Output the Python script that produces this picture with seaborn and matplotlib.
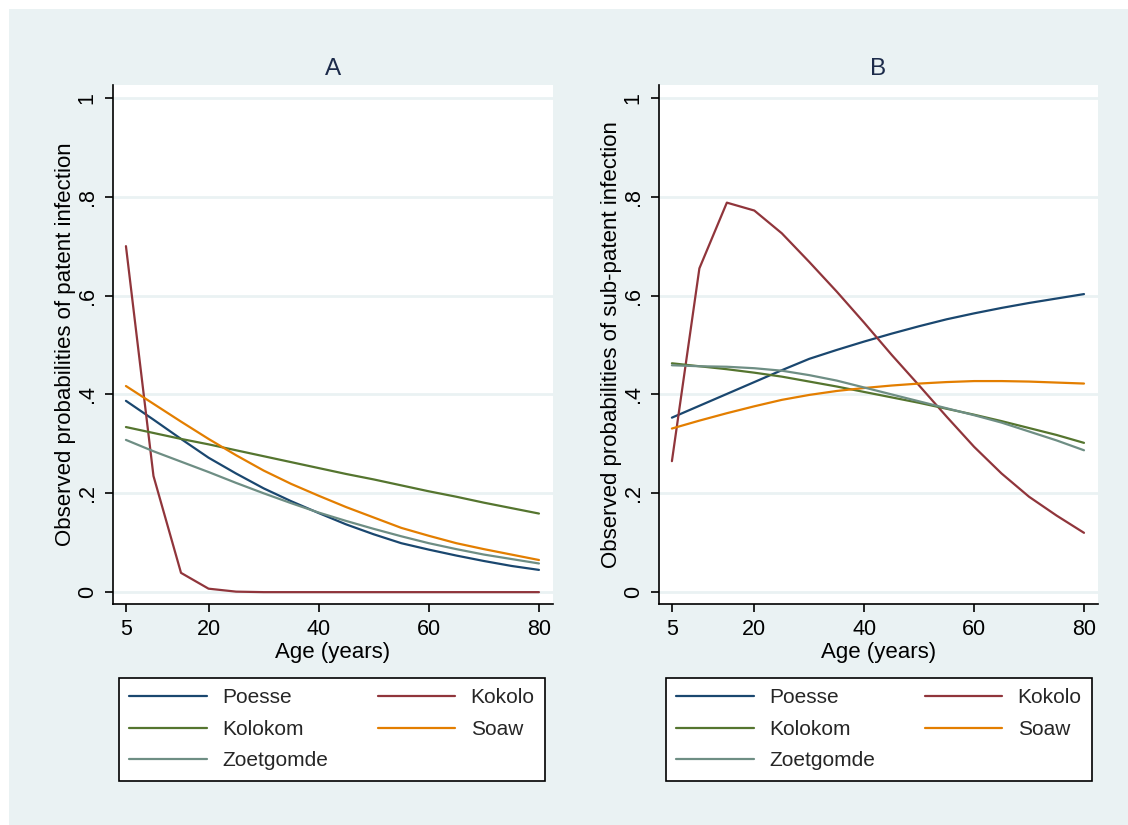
import numpy as np
import pandas as pd
import matplotlib.pyplot as plt
import seaborn as sns
from matplotlib.lines import Line2D
from matplotlib.patches import Rectangle

# ages and villages
ages = [5, 10, 15, 20, 25, 30, 35, 40, 45, 50, 55, 60, 65, 70, 75, 80]
villages = ["Poesse", "Kokolo", "Kolokom", "Soaw", "Zoetgomde"]
colors = ["#1a476f", "#90353b", "#55752f", "#e37e00", "#6e8e84"]

# A: patent infection
poesse_a = [0.387, 0.349, 0.310, 0.272, 0.240, 0.210, 0.184, 0.160, 0.137, 0.117, 0.099, 0.086, 0.074, 0.063, 0.053, 0.045]
kokolo_a = [0.700, 0.235, 0.039, 0.007, 0.001, 0, 0, 0, 0, 0, 0, 0, 0, 0, 0, 0]
kolokom_a = [0.334, 0.322, 0.310, 0.299, 0.287, 0.275, 0.263, 0.251, 0.239, 0.228, 0.216, 0.204, 0.193, 0.181, 0.170, 0.159]
soaw_a = [0.417, 0.381, 0.345, 0.310, 0.277, 0.246, 0.219, 0.195, 0.172, 0.151, 0.130, 0.114, 0.099, 0.087, 0.076, 0.065]
zoet_a = [0.308, 0.285, 0.264, 0.243, 0.221, 0.200, 0.180, 0.161, 0.144, 0.128, 0.113, 0.099, 0.087, 0.076, 0.067, 0.058]

# B: sub-patent infection
poesse_b = [0.353, 0.377, 0.401, 0.425, 0.449, 0.472, 0.490, 0.507, 0.523, 0.538, 0.552, 0.564, 0.575, 0.585, 0.594, 0.603]
kokolo_b = [0.265, 0.655, 0.788, 0.772, 0.726, 0.668, 0.608, 0.545, 0.480, 0.418, 0.355, 0.294, 0.240, 0.193, 0.155, 0.120]
kolokom_b = [0.463, 0.457, 0.451, 0.444, 0.436, 0.426, 0.416, 0.405, 0.394, 0.383, 0.371, 0.359, 0.346, 0.332, 0.318, 0.302]
soaw_b = [0.331, 0.347, 0.362, 0.376, 0.389, 0.399, 0.407, 0.413, 0.418, 0.422, 0.425, 0.427, 0.427, 0.426, 0.424, 0.422]
zoet_b = [0.459, 0.457, 0.456, 0.453, 0.448, 0.439, 0.428, 0.414, 0.400, 0.386, 0.372, 0.358, 0.343, 0.325, 0.307, 0.287]

y_ticks = [0, 0.2, 0.4, 0.6, 0.8, 1]
y_ticklabels = ["0", ".2", ".4", ".6", ".8", "1"]
x_ticks = [5, 20, 40, 60, 80]


def long_df(series):
    rows = []
    for name, vals in zip(villages, series):
        for a, v in zip(ages, vals):
            rows.append({"age": a, "prob": v, "village": name})
    return pd.DataFrame(rows)


df_a = long_df([poesse_a, kokolo_a, kolokom_a, soaw_a, zoet_a])
df_b = long_df([poesse_b, kokolo_b, kolokom_b, soaw_b, zoet_b])

sns.set_theme(style="white")
plt.rcParams['font.family'] = ['Liberation Sans', 'DejaVu Sans']

bg = "#eaf2f3"
W, H = 1128, 825
fig = plt.figure(figsize=(W / 100, H / 100), dpi=100, facecolor="white")
fig.patches.append(Rectangle((9 / W, 0), 1, (H - 9) / H, transform=fig.transFigure,
                             facecolor=bg, edgecolor="none", zorder=-10))

ax_a = fig.add_axes([113 / W, (H - 604) / H, 440 / W, 519 / H])
ax_b = fig.add_axes([659 / W, (H - 604) / H, 439 / W, 519 / H])

panels = [(ax_a, df_a, "A", "Observed probabilities of patent infection"),
          (ax_b, df_b, "B", "Observed probabilities of sub-patent infection")]

for ax, df, title, ylab in panels:
    ax.set_facecolor("white")
    sns.lineplot(data=df, x="age", y="prob", hue="village", hue_order=villages,
                 palette=colors, ax=ax, lw=1.6, legend=False)
    ax.set_xlim(2.65, 82.55)
    ax.set_ylim(-0.024, 1.026)
    ax.set_xticks(x_ticks)
    ax.set_xticklabels([str(t) for t in x_ticks], fontsize=15.5)
    ax.set_yticks(y_ticks)
    ax.set_yticklabels(y_ticklabels, fontsize=15.5, rotation=90, va="center")
    ax.yaxis.grid(True, color=bg, lw=2)
    ax.xaxis.grid(False)
    ax.set_axisbelow(True)
    for s in ["top", "right"]:
        ax.spines[s].set_visible(False)
    for s in ["left", "bottom"]:
        ax.spines[s].set_color("black")
        ax.spines[s].set_linewidth(1.2)
    ax.tick_params(axis="both", direction="out", length=6, width=1.2, color="black",
                   left=True, bottom=True, pad=5, labelcolor="black")
    ax.set_xlabel("Age (years)", fontsize=16, labelpad=1, color="black")
    ax.set_ylabel(ylab, fontsize=16, labelpad=0.5, color="black")
    ax.set_title(title, fontsize=17.5, pad=7, color="#1c2b4a")

# legends under each panel
order = [0, 2, 4, 1, 3]
handles = [Line2D([0], [0], color=colors[i], lw=1.6) for i in order]
labels = [villages[i] for i in order]
for ax, x0, x1 in [(ax_a, 119, 545), (ax_b, 666, 1092)]:
    leg = ax.legend(handles, labels, ncol=2, loc="upper left",
                    bbox_to_anchor=(x0 / W, (H - 783) / H, (x1 - x0) / W, 105 / H),
                    bbox_transform=fig.transFigure, mode="expand", borderaxespad=0,
                    fontsize=15, handlelength=3.7, handletextpad=0.75,
                    labelspacing=0.6, borderpad=0.5, frameon=True, fancybox=False,
                    framealpha=1)
    leg.get_frame().set_edgecolor("black")
    leg.get_frame().set_linewidth(1.2)
    leg.get_frame().set_facecolor("white")

fig.savefig("out.png", dpi=100, facecolor=fig.get_facecolor())
